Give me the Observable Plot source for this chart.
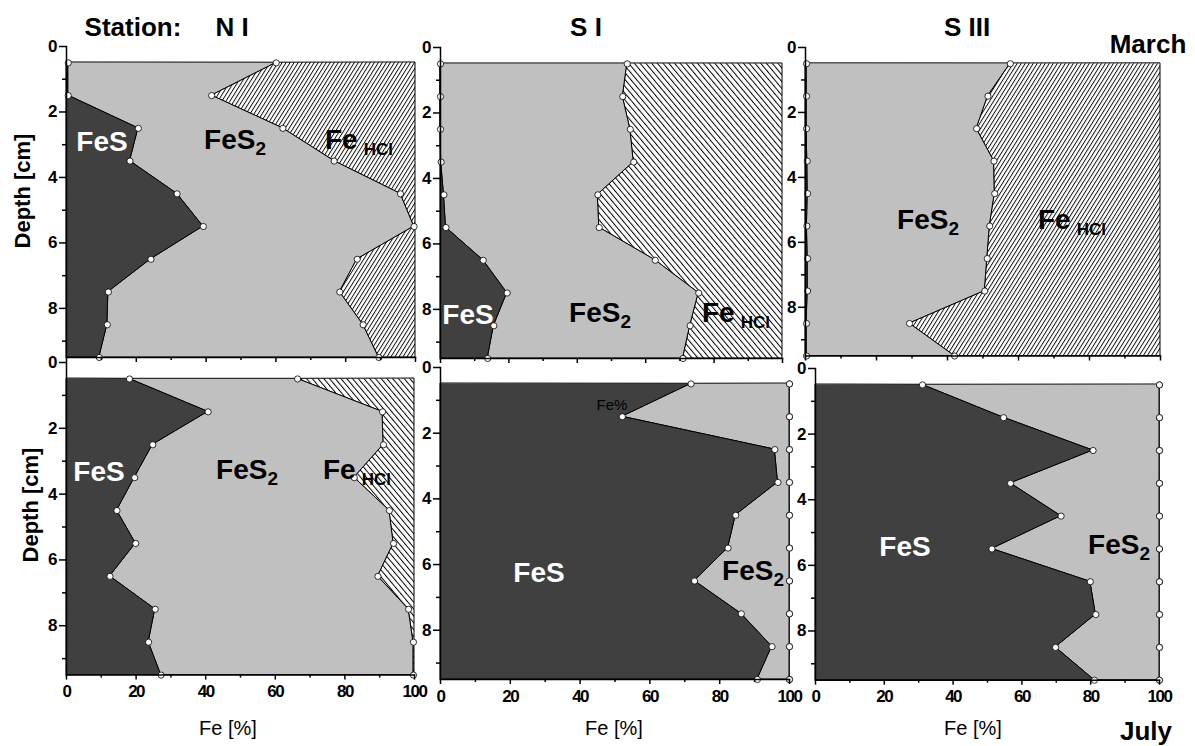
<!DOCTYPE html>
<html>
<head>
<meta charset="utf-8">
<script src="https://cdn.jsdelivr.net/npm/d3@7"></script>
<script src="https://cdn.jsdelivr.net/npm/@observablehq/plot@0.6"></script>
<style>
  html, body { margin: 0; padding: 0; background: #fff; }
  #chart { position: relative; width: 1195px; height: 746px; overflow: hidden; font-family: "Liberation Sans", Arial, sans-serif; }
  #chart svg text { font-family: "Liberation Sans", Arial, sans-serif; font-weight: bold; font-size: 17px; }
  #chart svg .xlab text { letter-spacing: -1.5px; }
  .lbl { position: absolute; transform: translate(-50%, -50%); white-space: nowrap; font-weight: bold; line-height: 1; }
  .big { font-size: 28px; }
  .sub2 { font-size: 19px; vertical-align: -6px; }
  .subH { font-size: 17px; vertical-align: -6px; margin-left: 6px; }
  .ttl { position: absolute; transform: translate(-50%, -50%); white-space: nowrap; font-weight: bold; font-size: 26px; line-height: 1; }
  .axl { position: absolute; transform: translate(-50%, -50%); white-space: nowrap; font-size: 20px; line-height: 1; }
  .ylab { position: absolute; transform: translate(-50%, -50%) rotate(-90deg); white-space: nowrap; font-size: 22px; font-weight: bold; line-height: 1; }
</style>
</head>
<body>
<div id="chart">
  <svg width="0" height="0" style="position:absolute">
    <defs>
      <pattern id="hatchFwd" patternUnits="userSpaceOnUse" width="3.4" height="10" patternTransform="rotate(32)">
        <rect width="3.4" height="10" fill="#fff"></rect>
        <line x1="0.5" y1="0" x2="0.5" y2="10" stroke="#000" stroke-width="0.9"></line>
      </pattern>
      <pattern id="hatchBack" patternUnits="userSpaceOnUse" width="4.4" height="10" patternTransform="rotate(-40)">
        <rect width="4.4" height="10" fill="#fff"></rect>
        <line x1="0.5" y1="0" x2="0.5" y2="10" stroke="#000" stroke-width="1"></line>
      </pattern>
    </defs>
  </svg>
</div>
<script>
// ---- data: depth (cm) of each slice, and Fe fractions (%) per station / month ----
const depths = [0.5, 1.5, 2.5, 3.5, 4.5, 5.5, 6.5, 7.5, 8.5, 9.5];

// cumulative boundaries: FeS, and FeS + FeS2 (rest to 100 = Fe HCl)
const niMarchFeS        = [0.5, 0.5, 20.6, 18.2, 31.7, 39.2, 24.2, 12.0, 11.7, 9.4];
const niMarchFeSplusFeS2 = [60.1, 41.6, 62.0, 76.7, 95.7, 99.6, 83.3, 78.3, 85.0, 89.5];

const siMarchFeS        = [0, 0, 0, 0.2, 1.0, 1.6, 12.5, 19.5, 15.6, 13.8];
const siMarchFeSplusFeS2 = [54.6, 53.3, 55.5, 56.5, 46.0, 46.4, 62.8, 75.5, 73.0, 70.9];

const siiiMarchFeS        = [0.3, 0.3, 0.3, 0.5, 0.6, 0.4, 0.6, 0.6, 0.3, 0.3];
const siiiMarchFeSplusFeS2 = [57.7, 51.4, 48.2, 53.1, 53.3, 51.9, 51.2, 50.5, 29.3, 42.0];

const niJulyFeS        = [18.1, 40.7, 24.8, 19.6, 14.5, 19.9, 12.5, 25.5, 23.6, 27.2];
const niJulyFeSplusFeS2 = [66.4, 90.8, 91.1, 82.7, 92.8, 94.0, 89.5, 98.3, 99.7, 99.7];

const siJulyFeS        = [71.8, 52.1, 95.8, 96.7, 84.6, 82.4, 72.8, 86.2, 95.0, 90.8];
const siJulyFeSplusFeS2 = [100, 100, 100, 100, 100, 100, 100, 100, 100, 100];

const siiiJulyFeS        = [31.1, 54.7, 80.7, 56.7, 71.4, 51.3, 79.9, 81.5, 69.8, 81.1];
const siiiJulyFeSplusFeS2 = [100, 100, 100, 100, 100, 100, 100, 100, 100, 100];

const total = 100;

// tick values
const yTicks = [0, 2, 4, 6, 8];
const yMinorTicks = [1, 3, 5, 7, 9];
const xTicks = [0, 20, 40, 60, 80, 100];
const xMinorTicks = [10, 30, 50, 70, 90];
const depthDomain = [0, 9.5];

// ---- layout ----
const panels = [
  {fes: niMarchFeS,   sul: niMarchFeSplusFeS2,   hatch: "hatchFwd",  x0: 66,  x1: 415, y0: 46,    y1: 357,   xLabels: false, edgeDots: false},
  {fes: siMarchFeS,   sul: siMarchFeSplusFeS2,   hatch: "hatchBack", x0: 440, x1: 782, y0: 46.5,  y1: 357.5, xLabels: false, edgeDots: false},
  {fes: siiiMarchFeS, sul: siiiMarchFeSplusFeS2, hatch: "hatchFwd",  x0: 805, x1: 1160, y0: 46.5, y1: 355,   xLabels: false, edgeDots: false},
  {fes: niJulyFeS,    sul: niJulyFeSplusFeS2,    hatch: "hatchBack", x0: 66,  x1: 414, y0: 361.7, y1: 674.3, xLabels: true,  edgeDots: false},
  {fes: siJulyFeS,    sul: siJulyFeSplusFeS2,    hatch: "hatchBack", x0: 440, x1: 789, y0: 367,   y1: 679,   xLabels: true,  edgeDots: true},
  {fes: siiiJulyFeS,  sul: siiiJulyFeSplusFeS2,  hatch: "hatchFwd",  x0: 815, x1: 1159, y0: 368.3, y1: 680,  xLabels: true,  edgeDots: true}
];

const chart = document.getElementById("chart");
const DARK = "#404040", GRAY = "#c0c0c0";
const mL = 50, mR = 16, mT = 14, mB = 34;

for (const p of panels) {
  const rows = depths.map((d, i) => ({depth: d, fes: p.fes[i], sul: p.sul[i], total}));
  const axisFont = {fontSize: 17, fontWeight: "bold"};
  const dotStyle = {r: 3.1, fill: "#fff", stroke: "#000", strokeWidth: 0.8};
  const svg = Plot.plot({
    width: (p.x1 - p.x0) + mL + mR,
    height: (p.y1 - p.y0) + mT + mB,
    marginLeft: mL, marginRight: mR, marginTop: mT, marginBottom: mB,
    x: {domain: [0, 100]},
    y: {domain: depthDomain, reverse: true},
    style: {background: "transparent", overflow: "visible", fontFamily: "'Liberation Sans', Arial, sans-serif", color: "#000"},
    marks: [
      Plot.areaX(rows, {y: "depth", x1: "sul", x2: "total", fill: `url(#${p.hatch})`, stroke: "#000", strokeWidth: 1}),
      Plot.areaX(rows, {y: "depth", x1: "fes", x2: "sul", fill: GRAY, stroke: "#000", strokeWidth: 1}),
      Plot.areaX(rows, {y: "depth", x: "fes", fill: DARK, stroke: "#000", strokeWidth: 1}),
      p.edgeDots ? Plot.dot(rows, {x: "total", y: "depth", ...dotStyle}) : null,
      Plot.dot(rows, {x: "sul", y: "depth", ...dotStyle}),
      Plot.dot(rows, {x: "fes", y: "depth", ...dotStyle}),
      Plot.frame({anchor: "left", stroke: "#000", strokeWidth: 1.5}),
      Plot.frame({anchor: "bottom", stroke: "#000", strokeWidth: 1.5}),
      Plot.axisY({ticks: yTicks, tickSize: 7, tickPadding: 2, label: null, tickFormat: d => d, strokeWidth: 1.5, ...axisFont}),
      Plot.axisY({ticks: yMinorTicks, tickSize: 4, label: null, tickFormat: () => "", strokeWidth: 1.5}),
      Plot.axisX({ticks: xTicks, tickSize: 5, tickPadding: 5, label: null, tickFormat: p.xLabels ? (d => d) : () => "", strokeWidth: 1.5, className: "xlab", ...axisFont}),
      Plot.axisX({ticks: xMinorTicks, tickSize: 3, label: null, tickFormat: () => "", strokeWidth: 1.5})
    ]
  });
  svg.style.position = "absolute";
  svg.style.left = (p.x0 - mL) + "px";
  svg.style.top = (p.y0 - mT) + "px";
  chart.appendChild(svg);
}

// ---- text annotations ----
const FES = 'FeS';
const FES2 = 'FeS<span class="sub2">2</span>';
const FEHCL = 'Fe<span class="subH">HCl</span>';
const labels = [
  [FES, 102, 142, "#fff"], [FES2, 235, 142, "#000"], [FEHCL, 359, 142, "#000"],
  [FES, 468, 315, "#fff"], [FES2, 600, 315, "#000"], [FEHCL, 736, 315, "#000"],
  [FES2, 928, 222, "#000"], [FEHCL, 1072, 222, "#000"],
  [FES, 99, 472, "#fff"], [FES2, 247, 472, "#000"], [FEHCL, 357, 472, "#000"],
  [FES, 539, 573, "#fff"], [FES2, 753, 573, "#000"],
  [FES, 905, 547, "#fff"], [FES2, 1119, 547, "#000"]
];
function addDiv(cls, html, x, y, color) {
  const el = document.createElement("div");
  el.className = cls;
  el.innerHTML = html;
  el.style.left = x + "px";
  el.style.top = y + "px";
  if (color) el.style.color = color;
  chart.appendChild(el);
  return el;
}
for (const [h, x, y, c] of labels) addDiv("lbl big", h, x, y, c);

addDiv("ttl", "Station:", 133, 27);
addDiv("ttl", "N I", 232, 27);
addDiv("ttl", "S I", 586, 27);
addDiv("ttl", "S III", 967, 27);
addDiv("ttl", "March", 1148, 44);
addDiv("ttl", "July", 1146, 731);
addDiv("ylab", "Depth [cm]", 23, 191);
addDiv("ylab", "Depth [cm]", 31, 505);
addDiv("axl", "Fe [%]", 228, 728);
addDiv("axl", "Fe [%]", 614, 728);
addDiv("axl", "Fe [%]", 973, 728);
const fe = addDiv("axl", "Fe%", 612, 404, "#000");
fe.style.fontSize = "15px";
</script>
</body>
</html>
